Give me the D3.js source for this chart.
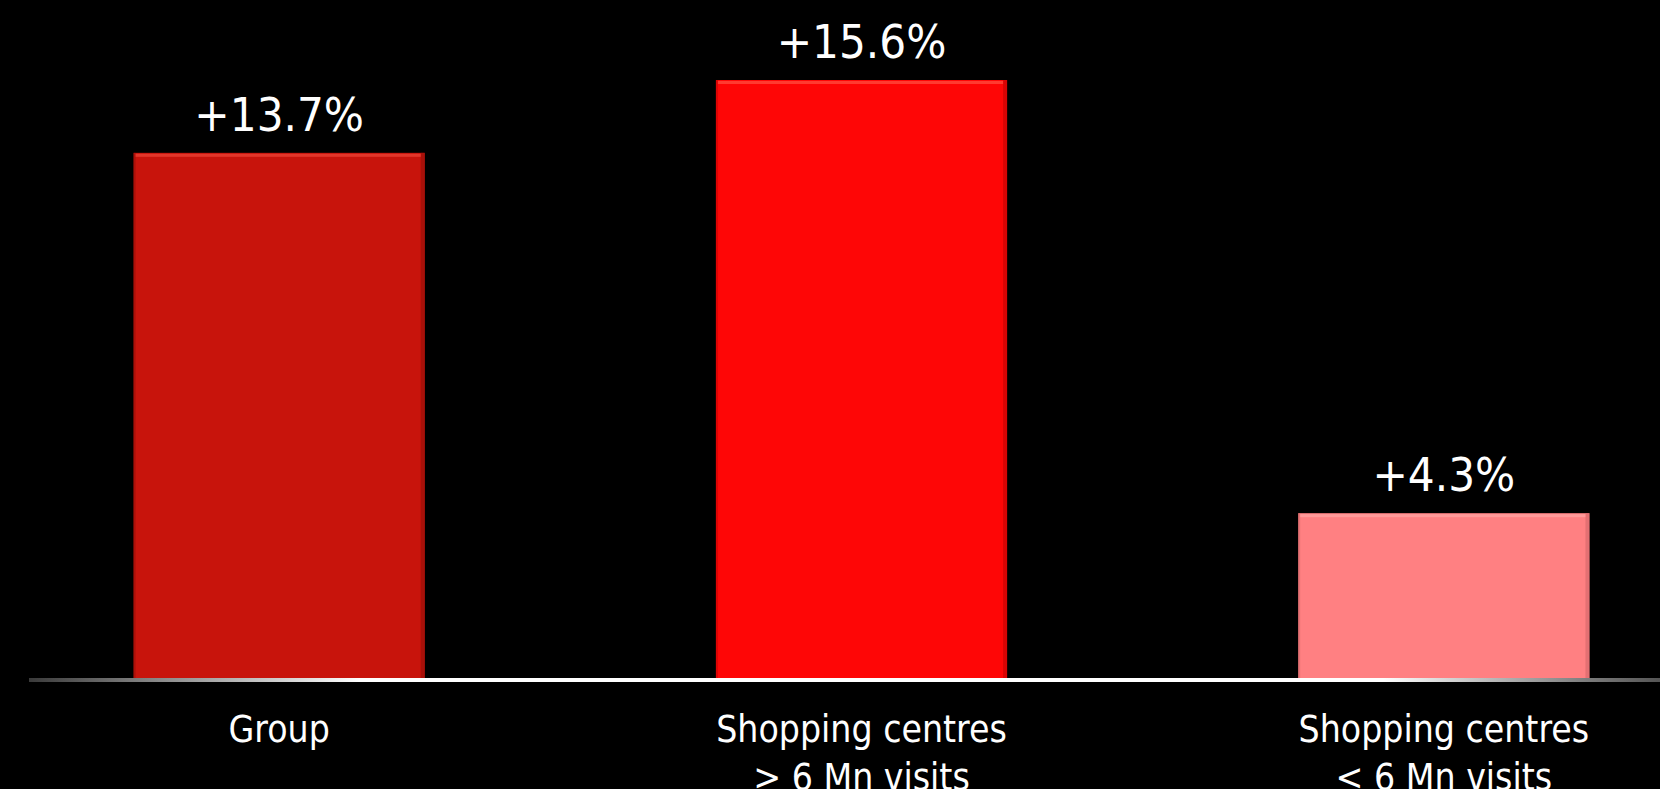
<!DOCTYPE html>
<html>
<head>
<meta charset="utf-8">
<script src="https://cdn.jsdelivr.net/npm/d3@7/dist/d3.min.js"></script>
<style>
  html, body { margin: 0; padding: 0; background: #000; overflow: hidden; }
  svg { display: block; }
  text { font-family: "DejaVu Sans Condensed", "DejaVu Sans", sans-serif; fill: #fff; }
</style>
</head>
<body>
<svg id="chart" width="1660" height="789"></svg>
<script>
// Footfall growth by shopping-centre size
const categories = ["Group", "Shopping centres\n> 6 Mn visits", "Shopping centres\n< 6 Mn visits"];
const values = [13.7, 15.6, 4.3];
const valueLabels = ["+13.7%", "+15.6%", "+4.3%"];
const barColors = ["#C8140C", "#FE0606", "#FF8082"];
const topColors = ["#E2362A", "#FF3A30", "#FF9A9A"];
const edgeColors = ["#9A0E08", "#C80404", "#D86A6C"];

const W = 1660, H = 789;
const svg = d3.select("#chart");

const x = d3.scaleBand()
  .domain(categories)
  .range([-12, 1735])
  .paddingInner(0.5)
  .paddingOuter(0.25);

const y = d3.scaleLinear()
  .domain([0, 15.6])
  .range([678, 80]);

// baseline gradient: grey ends fading into white across the middle
const defs = svg.append("defs");
const grad = defs.append("linearGradient")
  .attr("id", "baseGrad")
  .attr("gradientUnits", "userSpaceOnUse")
  .attr("x1", 29).attr("x2", W).attr("y1", 0).attr("y2", 0);
[[29, "#3a3a3a"], [133, "#7a7a7a"], [360, "#ffffff"], [1383, "#ffffff"], [1590, "#7a7a7a"], [1660, "#555555"]]
  .forEach(([px, c]) => grad.append("stop").attr("offset", (px - 29) / (W - 29)).attr("stop-color", c));

const bars = svg.append("g").selectAll("g")
  .data(values)
  .join("g");

bars.append("rect")
  .attr("x", (d, i) => x(categories[i]))
  .attr("y", d => y(d))
  .attr("width", x.bandwidth())
  .attr("height", d => y(0) - y(d))
  .attr("fill", (d, i) => barColors[i]);

// right-hand shading on each bar
bars.append("rect")
  .attr("x", (d, i) => x(categories[i]) + x.bandwidth() - 4)
  .attr("y", d => y(d))
  .attr("width", 4)
  .attr("height", d => y(0) - y(d))
  .attr("fill", (d, i) => edgeColors[i])
  .attr("opacity", 0.7);

// left-hand shading
bars.append("rect")
  .attr("x", (d, i) => x(categories[i]))
  .attr("y", d => y(d))
  .attr("width", 2)
  .attr("height", d => y(0) - y(d))
  .attr("fill", (d, i) => edgeColors[i])
  .attr("opacity", 0.6);

// top highlight
bars.append("rect")
  .attr("x", (d, i) => x(categories[i]) + 2)
  .attr("y", d => y(d) + 1)
  .attr("width", x.bandwidth() - 6)
  .attr("height", 3)
  .attr("fill", (d, i) => topColors[i]);

// value labels
bars.append("text")
  .attr("x", (d, i) => x(categories[i]) + x.bandwidth() / 2)
  .attr("y", d => y(d) - 22)
  .attr("text-anchor", "middle")
  .attr("font-size", 47)
  .text((d, i) => valueLabels[i]);

// baseline
svg.append("rect")
  .attr("x", 29)
  .attr("y", y(0))
  .attr("width", W - 29)
  .attr("height", 4)
  .attr("fill", "url(#baseGrad)");

// category labels, two lines where needed
const cat = svg.append("g").selectAll("text")
  .data(categories)
  .join("text")
  .attr("x", d => x(d) + x.bandwidth() / 2)
  .attr("y", 742)
  .attr("text-anchor", "middle")
  .attr("font-size", 37);

cat.selectAll("tspan")
  .data(d => d.split("\n"))
  .join("tspan")
  .attr("x", function () { return d3.select(this.parentNode).attr("x"); })
  .attr("dy", (d, i) => i === 0 ? 0 : 48)
  .text(d => d);
</script>
</body>
</html>
